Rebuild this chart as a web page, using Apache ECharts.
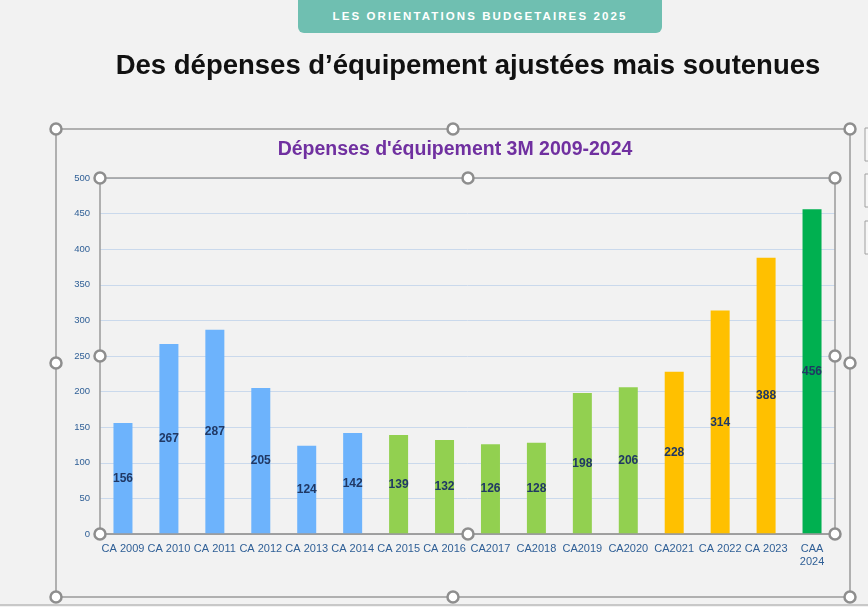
<!DOCTYPE html>
<html>
<head>
<meta charset="utf-8">
<script src="https://cdn.jsdelivr.net/npm/echarts@6/dist/echarts.min.js"></script>
<style>
  html, body { margin: 0; padding: 0; background: #f2f2f2; }
  #page { position: relative; width: 868px; height: 607px; overflow: hidden; }
  #banner {
    position: absolute; left: 298px; top: 0; width: 364px; height: 33px;
    background: #6fbfb1; border-radius: 0 0 6px 6px;
    color: #fff; font: bold 11.5px 'Liberation Sans', Arial, sans-serif;
    letter-spacing: 2.1px; text-align: center; line-height: 33px;
  }
  #heading {
    position: absolute; left: 0; top: 49px; width: 936px; text-align: center;
    font: bold 27.5px 'Liberation Sans', Arial, sans-serif; color: #111;
  }
  #chart { position: absolute; left: 0; top: 0; width: 868px; height: 607px; }
</style>
</head>
<body>
<div id="page">
  <div id="chart"></div>
  <div id="banner">LES ORIENTATIONS BUDGETAIRES 2025</div>
  <div id="heading">Des dépenses d’équipement ajustées mais soutenues</div>
</div>
<script>
// données
const categories = ['CA 2009', 'CA 2010', 'CA 2011', 'CA 2012', 'CA 2013', 'CA 2014', 'CA 2015', 'CA 2016',
  'CA2017', 'CA2018', 'CA2019', 'CA2020', 'CA2021', 'CA 2022', 'CA 2023', 'CAA\n2024']
const values = [156, 267, 287, 205, 124, 142, 139, 132, 126, 128, 198, 206, 228, 314, 388, 456]
// période de chaque barre
const periods = ['p1', 'p1', 'p1', 'p1', 'p1', 'p1', 'p2', 'p2', 'p2', 'p2', 'p2', 'p2', 'p3', 'p3', 'p3', 'p4']
const yTicks = [0, 50, 100, 150, 200, 250, 300, 350, 400, 450, 500]

const periodColors = { p1: '#6db3fc', p2: '#92d050', p3: '#ffc000', p4: '#00b050' }

const chart = echarts.init(document.getElementById('chart'))

// poignées de sélection (décor PowerPoint)
function handle(x, y) {
  return {
    type: 'circle',
    shape: { cx: x, cy: y, r: 5.5 },
    style: { fill: '#fff', stroke: '#8e8e8e', lineWidth: 2.5 },
    z: 100,
  }
}
function frame(x1, y1, x2, y2) {
  const xm = Math.round((x1 + x2) / 2)
  const ym = Math.round((y1 + y2) / 2)
  return [
    {
      type: 'rect',
      shape: { x: x1, y: y1, width: x2 - x1, height: y2 - y1 },
      style: { fill: 'none', stroke: '#9a9a9a', lineWidth: 1.5 },
      z: 90,
    },
    handle(x1, y1), handle(xm, y1), handle(x2, y1),
    handle(x1, ym), handle(x2, ym),
    handle(x1, y2), handle(xm, y2), handle(x2, y2),
  ]
}

const sideBtn = (y) => ({
  type: 'rect',
  shape: { x: 865, y: y, width: 20, height: 33 },
  style: { fill: '#f7f7f7', stroke: '#a0a0a0', lineWidth: 1 },
})

const option = {
  backgroundColor: '#f2f2f2',
  animation: false,
  title: {
    text: "Dépenses d'équipement 3M 2009-2024",
    left: 450,
    top: 135,
    textAlign: 'center',
    textStyle: {
      fontFamily: 'Liberation Sans',
      fontSize: 19.5,
      fontWeight: 'bold',
      color: '#7030a0',
    },
  },
  grid: {
    left: 100,
    right: 33,
    top: 178,
    bottom: 73,
  },
  xAxis: {
    type: 'category',
    data: categories,
    axisLine: { lineStyle: { color: '#9a9a9a', width: 1.5 } },
    axisTick: { show: false },
    axisLabel: {
      interval: 0,
      margin: 8,
      fontFamily: 'Liberation Sans',
      fontSize: 11,
      lineHeight: 13,
      color: '#2f5f96',
    },
  },
  yAxis: {
    type: 'value',
    min: yTicks[0],
    max: yTicks[yTicks.length - 1],
    interval: 50,
    axisLine: { show: false },
    axisTick: { show: false },
    axisLabel: {
      margin: 10,
      fontFamily: 'Liberation Sans',
      fontSize: 9.5,
      color: '#2f5f96',
    },
    splitLine: { lineStyle: { color: '#cad9ec', width: 1 } },
  },
  series: [
    {
      type: 'bar',
      barWidth: 19,
      data: values.map((v, i) => ({
        value: v,
        itemStyle: { color: periodColors[periods[i]] },
      })),
      label: {
        show: true,
        position: 'inside',
        fontFamily: 'Liberation Sans',
        fontSize: 12,
        fontWeight: 'bold',
        color: '#203864',
      },
    },
  ],
  graphic: [
    ...frame(56, 129, 850, 597),
    ...frame(100, 178, 835, 534),
    sideBtn(128), sideBtn(174), sideBtn(221),
    {
      type: 'line',
      shape: { x1: 0, y1: 605, x2: 868, y2: 605 },
      style: { stroke: '#c8c8c8', lineWidth: 2 },
    },
  ],
}

chart.setOption(option)
</script>
</body>
</html>
